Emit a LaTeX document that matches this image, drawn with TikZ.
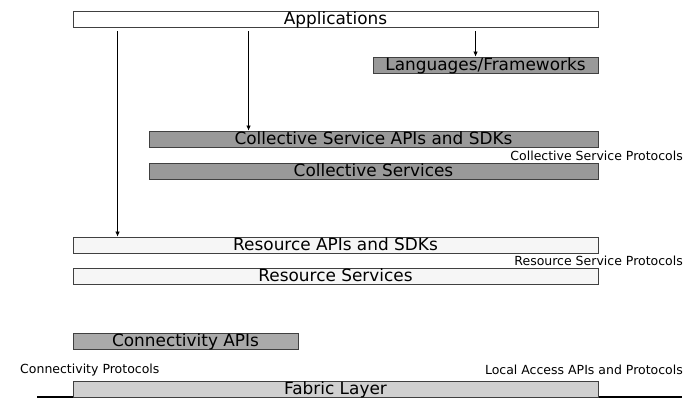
\documentclass[tikz,border=0pt]{standalone}
\usepackage{fontspec}
\setmainfont{DejaVu Sans}
\usetikzlibrary{positioning,arrows.meta}

\definecolor{darkfill}{HTML}{999999}
\definecolor{midfill}{HTML}{AAAAAA}
\definecolor{lightfill}{HTML}{D0D0D0}
\definecolor{palefill}{HTML}{F6F6F6}
\definecolor{edge}{HTML}{404040}

\begin{document}
\begin{tikzpicture}[x=1pt, y=-1pt,
        layer/.style={draw=edge, line width=0.9pt, minimum height=16pt, inner sep=0pt,
            text height=13pt, text depth=3pt, font=\fontsize{16.9}{17}\selectfont},
        proto/.style={inner sep=0pt, font=\fontsize{12.5}{13}\selectfont},
        arr/.style={-{Latex[length=5pt,width=4.5pt]}, line width=0.6pt, shorten <=4pt}
    ]
    \useasboundingbox (0,0) rectangle (690,399);

    % top
    \node[layer, fill=white, minimum width=525pt]      (app)    at (335.5,19)  {Applications};
    \node[layer, fill=darkfill, minimum width=225pt]   (lang)   at (485.5,65)  {Languages/Frameworks};

    % collective
    \node[layer, fill=darkfill, minimum width=449pt]   (colapi) at (373.5,139) {Collective Service APIs and SDKs};
    \node[layer, fill=darkfill, minimum width=449pt]   (colsrv) at (373.5,171) {Collective Services};
    \node[proto, anchor=east] (colproto) at (683,156) {Collective Service Protocols};

    % resource
    \node[layer, fill=palefill, minimum width=525pt]   (resapi) at (335.5,245) {Resource APIs and SDKs};
    \node[layer, fill=palefill, minimum width=525pt]   (ressrv) at (335.5,276) {Resource Services};
    \node[proto, anchor=east] (resproto) at (683,261) {Resource Service Protocols};

    % connectivity + fabric
    \node[layer, fill=midfill, minimum width=225pt]    (conn)   at (185.5,341) {Connectivity APIs};
    \node[proto, anchor=west] (connproto)  at (20,370)  {Connectivity Protocols};
    \node[proto, anchor=east] (localproto) at (683,370) {Local Access APIs and Protocols};

    \coordinate (baseL) at (37,396.5);
    \coordinate (baseR) at (682,396.5);
    \draw[line width=2pt] (baseL) -- (baseR);
    \node[layer, fill=lightfill, minimum width=525pt]  (fabric) at (335.5,389) {Fabric Layer};

    \draw[arr] ([xshift=45pt]app.south west)  -- ([xshift=45pt]resapi.north west);
    \draw[arr] ([xshift=176pt]app.south west) -- ([xshift=100pt]colapi.north west);
    \draw[arr] ([xshift=403pt]app.south west) -- ([xshift=103pt]lang.north west);
\end{tikzpicture}
\end{document}
